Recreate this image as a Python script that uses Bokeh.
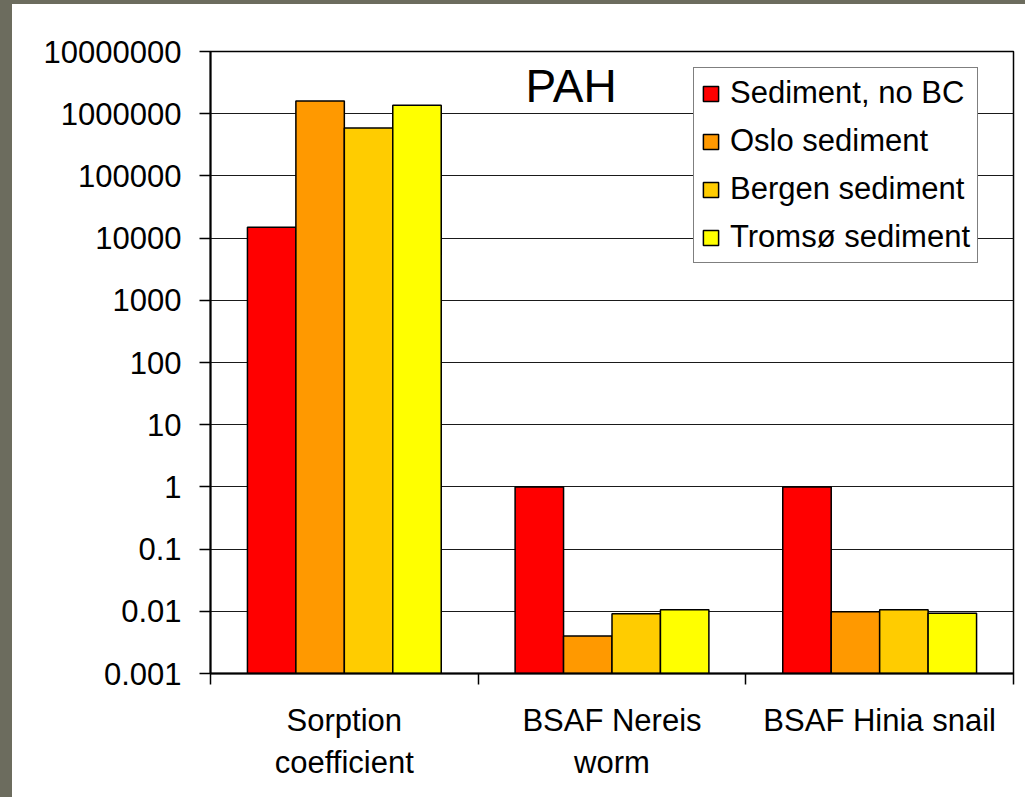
from bokeh.plotting import figure
from bokeh.models import (Range1d, FixedTicker, ColumnDataSource, Label, Legend, LegendItem, Div)
from bokeh.layouts import row, column
from bokeh.embed import file_html
from bokeh.resources import INLINE

# ---- data ----
categories = ["Sorption\ncoefficient", "BSAF Nereis\nworm", "BSAF Hinia snail"]
series_names = ["Sediment, no BC", "Oslo sediment", "Bergen sediment", "Tromsø sediment"]
no_bc = [15000, 1.0, 1.0]
oslo = [1.6e6, 0.0040, 0.0098]
bergen = [5.9e5, 0.0091, 0.0106]
tromso = [1.37e6, 0.0106, 0.0093]
y_ticks = [1e-3, 1e-2, 1e-1, 1, 10, 100, 1000, 1e4, 1e5, 1e6, 1e7]
y_tick_labels = ["0.001", "0.01", "0.1", "1", "10", "100", "1000", "10000",
                 "100000", "1000000", "10000000"]
title_text = "PAH"

colors = ["#FF0000", "#FF9900", "#FFCC00", "#FFFF00"]
all_series = [no_bc, oslo, bergen, tromso]
FONT = "Liberation Sans"
BAND = "#6c6c5e"

p = figure(frame_width=803, frame_height=622, y_axis_type="log",
           x_range=Range1d(0, len(categories)), y_range=Range1d(1e-3, 1e7),
           output_backend="svg", toolbar_location=None,
           min_border_left=198, min_border_top=47, min_border_right=12,
           min_border_bottom=124)
p.background_fill_color = "white"
p.border_fill_color = "white"
p.outline_line_color = "black"
p.outline_line_width = 1.5

bw = 0.181
items = []
for k, (name, vals, col) in enumerate(zip(series_names, all_series, colors)):
    xs = [i + 0.5 + (k - 1.5) * bw for i in range(len(categories))]
    src = ColumnDataSource(dict(x=xs, top=vals, bottom=[1e-3] * len(vals)))
    r = p.vbar(x="x", top="top", bottom="bottom", width=bw, source=src,
               fill_color=col, line_color="black", line_width=1.5)
    items.append(LegendItem(label=name, renderers=[r]))

# grid
p.xgrid.grid_line_color = None
p.ygrid.grid_line_color = "#1a1a1a"
p.ygrid.grid_line_width = 1.2
p.ygrid.ticker = FixedTicker(ticks=y_ticks, minor_ticks=[])

# y axis
ya = p.yaxis[0]
ya.ticker = FixedTicker(ticks=y_ticks, minor_ticks=[])
ya.major_label_overrides = {t: s for t, s in zip(y_ticks, y_tick_labels)}
ya.axis_line_color = "black"
ya.axis_line_width = 2
ya.major_tick_line_color = "black"
ya.major_tick_line_width = 1.5
ya.major_tick_out = 11
ya.major_tick_in = 0
ya.minor_tick_line_color = None
ya.major_label_text_font = FONT
ya.major_label_text_font_size = "31px"
ya.major_label_text_color = "black"
ya.major_label_standoff = 18

# x axis
xa = p.xaxis[0]
centers = [i + 0.5 for i in range(len(categories))]
bounds = [float(i) for i in range(len(categories) + 1)]
xa.ticker = FixedTicker(ticks=centers, minor_ticks=bounds)
xa.major_label_overrides = {c: s for c, s in zip(centers, categories)}
xa.axis_line_color = "black"
xa.axis_line_width = 2
xa.major_tick_line_color = None
xa.major_tick_out = 0
xa.major_tick_in = 0
xa.minor_tick_line_color = "black"
xa.minor_tick_line_width = 1.5
xa.minor_tick_out = 11
xa.minor_tick_in = 0
xa.major_label_text_font = FONT
xa.major_label_text_font_size = "31px"
xa.major_label_text_color = "black"
xa.major_label_standoff = 18

# title inside plot
p.add_layout(Label(x=315, y=588, x_units="screen", y_units="screen", text=title_text,
                   text_font=FONT, text_font_size="46px", text_color="black",
                   text_baseline="alphabetic"))

legend = Legend(items=items, location=(483, 410))
legend.label_text_font = FONT
legend.label_text_font_size = "31px"
legend.label_text_color = "black"
legend.glyph_width = 19
legend.glyph_height = 19
legend.label_standoff = 10
legend.spacing = 12
legend.padding = 7
legend.margin = 0
legend.border_line_color = "black"
legend.border_line_width = 1.5
legend.background_fill_color = "white"
legend.background_fill_alpha = 1
p.add_layout(legend, "center")

top_band = Div(text="", width=1025, height=4, margin=0,
               styles={"background-color": BAND})
left_band = Div(text="", width=12, height=793, margin=0,
                styles={"background-color": BAND})
layout = column(top_band, row(left_band, p))

open("out.html", "w").write(file_html(layout, INLINE))
